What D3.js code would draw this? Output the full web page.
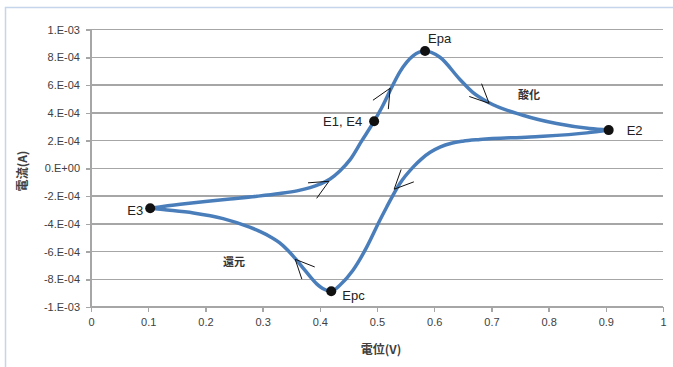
<!DOCTYPE html>
<meta charset="utf-8">
<style>
body {
	margin: 0;
	background-color: #ffffff;
	font-family: "Liberation Sans", Arial, sans-serif;
}
.axis text {
	font: 11px "Liberation Sans", Arial, sans-serif;
	fill: #404040;
}
.axis line, .axis path {
	fill: none;
	stroke: #a6a6a6;
	stroke-width: 1.5;
	shape-rendering: crispEdges;
}
.grid line {
	stroke: #a6a6a6;
	stroke-width: 1.5;
	shape-rendering: crispEdges;
}
.title {
	font: bold 12px "Noto Sans CJK JP", sans-serif;
	fill: #404040;
}
</style>
<body>
<script src="https://d3js.org/d3.v7.min.js"></script>
<script>
var width = 673;
var height = 367;

// forward scan: E3 -> E1 -> Epa -> E2  (V, A)
var fwdV = [0.1035, 0.156, 0.2, 0.243, 0.29, 0.33, 0.36, 0.383, 0.40, 0.418, 0.435, 0.453, 0.473, 0.495, 0.51, 0.523, 0.54, 0.5635, 0.584, 0.61, 0.645, 0.668, 0.696, 0.755, 0.814, 0.872, 0.905];
var fwdI = [-2.88e-4, -2.6e-4, -2.4e-4, -2.22e-4, -2.02e-4, -1.82e-4, -1.63e-4, -1.4e-4, -1.15e-4, -0.78e-4, -0.2e-4, 0.62e-4, 1.95e-4, 3.39e-4, 4.5e-4, 5.6e-4, 6.95e-4, 8.12e-4, 8.45e-4, 8.0e-4, 6.4e-4, 5.45e-4, 4.72e-4, 3.82e-4, 3.22e-4, 2.86e-4, 2.75e-4];

// reverse scan: E2 -> Epc -> E3
var revV = [0.905, 0.867, 0.7675, 0.68, 0.65, 0.63, 0.61, 0.593, 0.578, 0.5635, 0.54, 0.517, 0.505, 0.482, 0.458, 0.435, 0.42, 0.405, 0.395, 0.385, 0.372, 0.358, 0.344, 0.33, 0.314, 0.295, 0.276, 0.231, 0.179, 0.126, 0.1035];
var revI = [2.75e-4, 2.55e-4, 2.26e-4, 2.07e-4, 1.95e-4, 1.8e-4, 1.52e-4, 1.15e-4, 0.68e-4, 0.1e-4, -1.1e-4, -2.79e-4, -3.75e-4, -5.69e-4, -7.35e-4, -8.43e-4, -8.86e-4, -8.66e-4, -8.35e-4, -7.9e-4, -7.25e-4, -6.55e-4, -5.91e-4, -5.38e-4, -4.95e-4, -4.55e-4, -4.23e-4, -3.63e-4, -3.22e-4, -2.98e-4, -2.88e-4];

// marked points
var ptNames = ["E1, E4", "Epa", "E2", "E3", "Epc"];
var ptV = [0.495, 0.584, 0.905, 0.1035, 0.42];
var ptI = [3.39e-4, 8.45e-4, 2.75e-4, -2.88e-4, -8.86e-4];

// direction arrows (tip position, screen angle of the tail in degrees)
var arrowV = [0.523, 0.696, 0.530, 0.357, 0.416];
var arrowI = [5.77e-4, 4.68e-4, -1.51e-4, -6.56e-4, -0.94e-4];
var arrowAngle = [120, -136, -45.5, 46.5, 150.8];

var xTicks = [0, 0.1, 0.2, 0.3, 0.4, 0.5, 0.6, 0.7, 0.8, 0.9, 1];
var yTicks = [1e-3, 8e-4, 6e-4, 4e-4, 2e-4, 0, -2e-4, -4e-4, -6e-4, -8e-4, -1e-3];
var yTickLabels = ["1.E-03", "8.E-04", "6.E-04", "4.E-04", "2.E-04", "0.E+00", "-2.E-04", "-4.E-04", "-6.E-04", "-8.E-04", "-1.E-03"];

var svg = d3.select('body')
	.append('svg')
	.attr('width', width)
	.attr('height', height);

// outer frame
svg.append('rect')
	.attr('x', 5.5)
	.attr('y', 7.5)
	.attr('width', width)
	.attr('height', height)
	.style('fill', '#fff')
	.style('stroke', '#c5d5ea')
	.style('stroke-width', 1.5);

var x = d3.scaleLinear().domain([0, 1]).range([91, 663]);
var y = d3.scaleLinear().domain([-1e-3, 1e-3]).range([307, 29.5]);

// gridlines
svg.append('g')
	.attr('class', 'grid')
	.selectAll('line')
	.data(yTicks.slice(0, -1))
	.enter()
	.append('line')
	.attr('x1', x(0))
	.attr('x2', x(1))
	.attr('y1', function(d) { return y(d); })
	.attr('y2', function(d) { return y(d); });

var xAxis = d3.axisBottom(x).tickValues(xTicks).tickSize(5).tickPadding(6)
	.tickFormat(function(d) { return d3.format('')(d); });
svg.append('g')
	.attr('class', 'x axis')
	.attr('transform', 'translate(0,' + y(-1e-3) + ')')
	.call(xAxis);

var yAxis = d3.axisLeft(y).tickValues(yTicks).tickSize(5).tickPadding(6)
	.tickFormat(function(d, i) { return yTickLabels[i]; });
svg.append('g')
	.attr('class', 'y axis')
	.attr('transform', 'translate(' + x(0) + ',0)')
	.call(yAxis);
svg.selectAll('.axis .domain').attr('d', function() {
	return d3.select(this.parentNode).classed('x') ?
		'M' + x(0) + ',0H' + x(1) : 'M0,' + y(1e-3) + 'V' + y(-1e-3);
});

// axis titles
svg.append('text')
	.attr('class', 'title')
	.attr('x', (x(0) + x(1)) / 2 + 4)
	.attr('y', 354)
	.attr('text-anchor', 'middle')
	.text('電位(V)');

svg.append('text')
	.attr('class', 'title')
	.attr('transform', 'translate(27,' + 171 + ') rotate(-90)')
	.attr('text-anchor', 'middle')
	.text('電流(A)');

// curve: each scan is monotone in potential
var line = d3.line()
	.x(function(d) { return x(d[0]); })
	.y(function(d) { return y(d[1]); })
	.curve(d3.curveMonotoneX);

var fwd = d3.zip(fwdV, fwdI);
var rev = d3.zip(revV, revI).reverse();

svg.selectAll('path.cv')
	.data([fwd, rev])
	.enter()
	.append('path')
	.attr('class', 'cv')
	.attr('d', line)
	.style('fill', 'none')
	.style('stroke', '#4a7ebb')
	.style('stroke-width', 3.5)
	.style('stroke-linejoin', 'round');

// markers
svg.selectAll('circle.pt')
	.data(d3.zip(ptV, ptI))
	.enter()
	.append('circle')
	.attr('class', 'pt')
	.attr('cx', function(d) { return x(d[0]); })
	.attr('cy', function(d) { return y(d[1]); })
	.attr('r', 5)
	.style('fill', '#111');

// marker labels
var lblDx = [-12, 3, 18, -7, 11];
var lblDy = [5, -8, 5, 7, 9];
var lblAnchor = ['end', 'start', 'start', 'end', 'start'];
svg.selectAll('text.pt')
	.data(ptNames)
	.enter()
	.append('text')
	.attr('class', 'pt')
	.attr('x', function(d, i) { return x(ptV[i]) + lblDx[i]; })
	.attr('y', function(d, i) { return y(ptI[i]) + lblDy[i]; })
	.attr('text-anchor', function(d, i) { return lblAnchor[i]; })
	.style('font-size', '13px')
	.style('fill', '#222')
	.text(function(d) { return d; });

// direction arrows
var wing = 21, spread = 25 * Math.PI / 180;
svg.selectAll('path.arrow')
	.data(d3.range(arrowV.length))
	.enter()
	.append('path')
	.attr('class', 'arrow')
	.attr('d', function(i) {
		var tx = x(arrowV[i]), ty = y(arrowI[i]);
		var a = arrowAngle[i] * Math.PI / 180;
		return 'M' + (tx + wing * Math.cos(a - spread)) + ',' + (ty + wing * Math.sin(a - spread)) +
			'L' + tx + ',' + ty +
			'L' + (tx + wing * Math.cos(a + spread)) + ',' + (ty + wing * Math.sin(a + spread));
	})
	.style('fill', 'none')
	.style('stroke', '#111')
	.style('stroke-width', 1);

// process labels
svg.append('text')
	.attr('x', 529).attr('y', 99)
	.attr('text-anchor', 'middle')
	.style('font', 'bold 11px "Noto Sans CJK JP", sans-serif')
	.style('fill', '#333')
	.text('酸化');

svg.append('text')
	.attr('x', 234).attr('y', 266)
	.attr('text-anchor', 'middle')
	.style('font', 'bold 11px "Noto Sans CJK JP", sans-serif')
	.style('fill', '#333')
	.text('還元');
</script>
</body>
